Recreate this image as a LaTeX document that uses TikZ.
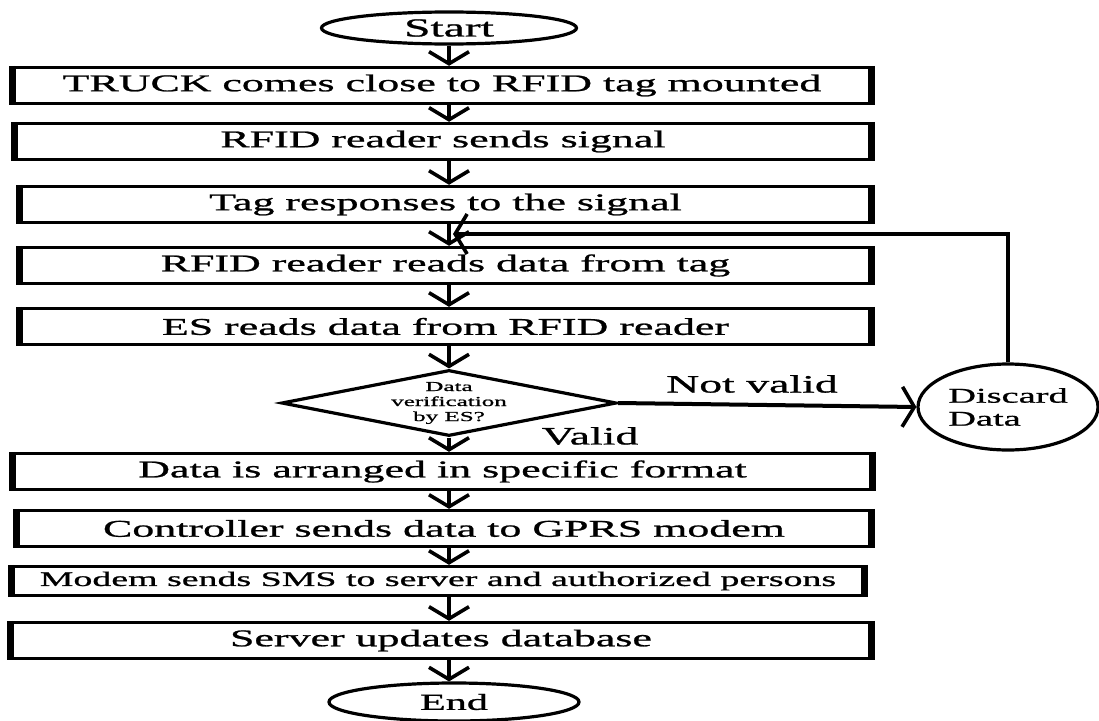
\documentclass[tikz,border=0pt]{standalone}
\usepackage{fontspec}
\setmainfont{Liberation Serif}[FakeStretch=1.83,FakeBold=1.0]
\usetikzlibrary{shapes.geometric,arrows.meta}
\begin{document}
\begin{tikzpicture}[x=1pt,y=-1pt,
  box/.style={draw,line width=3.4pt,minimum width=856pt,minimum height=36pt,inner sep=0pt,font=\fontsize{24}{26}\selectfont},
  term/.style={draw,ellipse,line width=3.2pt,inner sep=0pt},
  sidebar/.style={line width=6pt},
  arr/.style={line width=4pt,-{Straight Barb[length=12pt,width=40pt,line width=3.6pt]}},
  lbl/.style={inner sep=0pt,font=\fontsize{25}{27}\selectfont}]
\useasboundingbox (0,0) rectangle (1099,720);
\fill[white] (0,0) rectangle (1099,720);

\node[term,minimum width=255pt,minimum height=32pt,font=\fontsize{26}{28}\selectfont] (start) at (449,28) {Start};
\node[box] (b1) at (442,85.5) {TRUCK comes close to RFID tag mounted};
\node[box,minimum width=854pt] (b2) at (443,141.5) {RFID reader sends signal};
\node[box,minimum width=849pt] (b3) at (445.5,204.5) {Tag responses to the signal};
\node[box,minimum width=849pt] (b4) at (445.5,265.5) {RFID reader reads data from tag};
\node[box,minimum width=849pt] (b5) at (445.5,326.5) {ES reads data from RFID reader};
\node[draw,diamond,line width=3.2pt,aspect=5,minimum width=335pt,minimum height=66pt,inner sep=0pt,
      align=center,font=\fontsize{13.7}{15}\selectfont] (dia) at (449,403) {Data\\verification\\by ES?};
\node[term,minimum width=180pt,minimum height=86pt,align=left,font=\fontsize{21}{23}\selectfont] (disc) at (1008,407) {Discard\\Data};
\node[box,minimum width=857pt] (b6) at (442.5,471.5) {Data is arranged in specific format};
\node[box,minimum width=852pt] (b7) at (444,528.5) {Controller sends data to GPRS modem};
\node[box,minimum width=850pt,minimum height=29pt,font=\fontsize{20.7}{22}\selectfont] (b8) at (438,581) {Modem sends SMS to server and authorized persons};
\node[box,minimum width=858pt] (b9) at (441,640.5) {Server updates database};
\node[term,minimum width=250pt,minimum height=38pt,font=\fontsize{23}{25}\selectfont] (end) at (454,702) {End};

\node[lbl] (nv) at (752,384) {Not valid};
\node[lbl] (val) at (590,436) {Valid};

\foreach \n in {b1,b2,b3,b4,b5,b6,b7,b8,b9}
  \draw[sidebar] (\n.north west) -- (\n.south west) (\n.north east) -- (\n.south east);

\coordinate (fb) at (453,234);

\draw[arr] (start.south) -- (b1.north -| start.south);
\draw[arr] (b1.south -| start.south) -- (b2.north -| start.south);
\draw[arr] (b2.south -| start.south) -- (b3.north -| start.south);
\draw[arr] (b3.south -| start.south) -- (b4.north -| start.south);
\draw[arr] (b4.south -| start.south) -- (b5.north -| start.south);
\draw[arr] (b5.south -| start.south) -- (dia.north);
\draw[arr] (dia.south) -- (b6.north -| dia.south);
\draw[arr] (b6.south -| start.south) -- (b7.north -| start.south);
\draw[arr] (b7.south -| start.south) -- (b8.north -| start.south);
\draw[arr] (b8.south -| start.south) -- (b9.north -| start.south);
\draw[arr] (b9.south -| start.south) -- (end.north -| start.south);
\draw[arr] (dia.east) -- (disc.west);
\draw[arr] (disc.north) |- (fb);
\end{tikzpicture}
\end{document}
